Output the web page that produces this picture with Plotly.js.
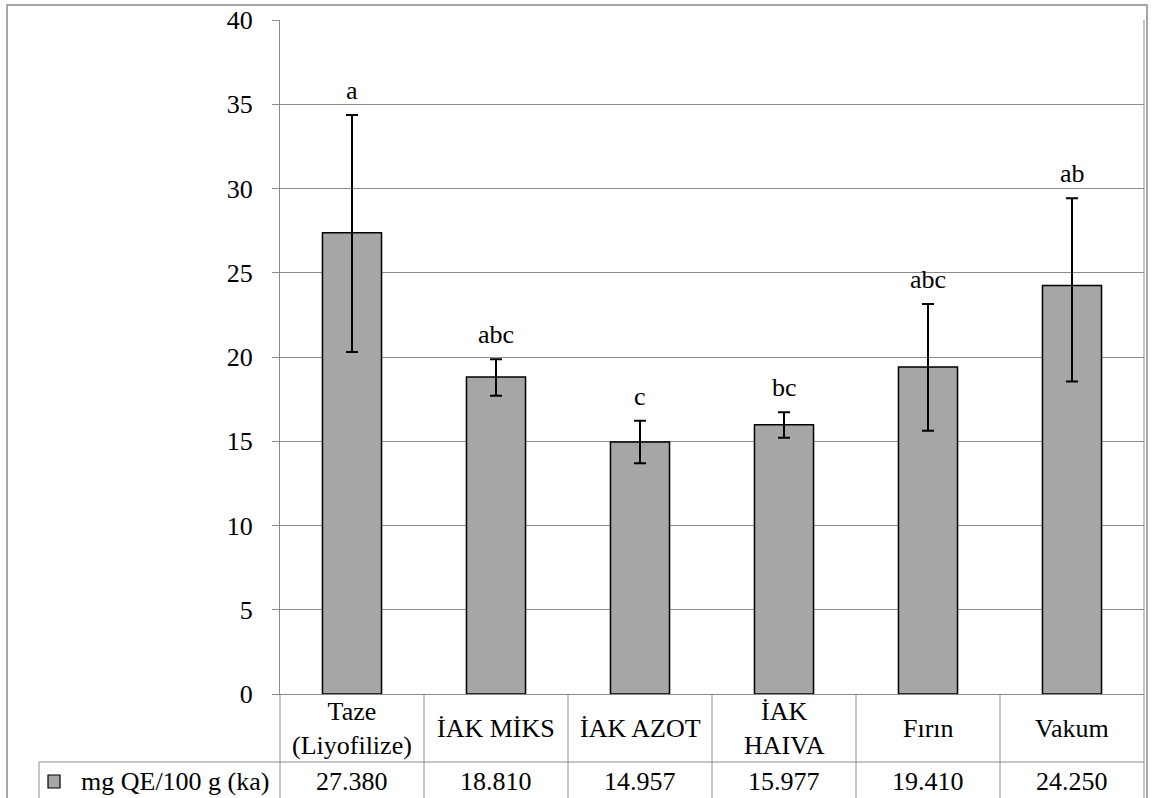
<!DOCTYPE html>
<html>
<head>
<meta charset="utf-8">
<script src="https://cdn.plot.ly/plotly-3.0.1.min.js"></script>
<style>html,body{margin:0;padding:0;background:#fff;}#chart{width:1154px;height:798px;}</style>
</head>
<body>
<div id="chart"></div>
<script>
// ---- data ----
const categories = ['Taze (Liyofilize)', 'İAK MİKS', 'İAK AZOT', 'İAK HAIVA', 'Fırın', 'Vakum'];
const tableLabels = ['Taze<br>(Liyofilize)', 'İAK MİKS', 'İAK AZOT', 'İAK<br>HAIVA', 'Fırın', 'Vakum'];
const values = [27.380, 18.810, 14.957, 15.977, 19.410, 24.250];
const errPlus = [6.98, 1.06, 1.26, 0.75, 3.74, 5.17];
const errMinus = [7.08, 1.11, 1.26, 0.77, 3.78, 5.71];
const letters = ['a', 'abc', 'c', 'bc', 'abc', 'ab'];
const seriesName = 'mg QE/100 g (ka)';
const yTicks = [0, 5, 10, 15, 20, 25, 30, 35, 40];

// ---- layout helpers (pixel -> paper) ----
const W = 1154, H = 798, ML = 280, MR = 10, MT = 20, MB = 104;
const PW = W - ML - MR, PH = H - MT - MB;
const px = v => (v - ML) / PW;
const py = v => (H - MB - v) / PH;

const FONT = 'Liberation Serif';
const FS = 26;
const GRID = '#8c8c8c';

const trace = {
  type: 'bar',
  x: categories,
  y: values,
  name: seriesName,
  width: 0.41,
  marker: { color: '#a6a6a6', line: { color: '#000000', width: 1.5 } },
  error_y: {
    type: 'data', symmetric: false, array: errPlus, arrayminus: errMinus,
    color: '#000000', thickness: 2, width: 6, visible: true
  },
  hoverinfo: 'none'
};

const shapes = [];
const annotations = [];
const rowSep = py(762);
const bottom = py(830);

shapes.push({ type: 'rect', xref: 'paper', yref: 'paper', x0: px(7), x1: px(1147), y0: py(5), y1: bottom,
  line: { color: '#8a8a8a', width: 1.5 }, fillcolor: 'rgba(0,0,0,0)', layer: 'above' });
shapes.push({ type: 'line', xref: 'paper', yref: 'paper', x0: 1, x1: 1, y0: 1, y1: bottom, line: { color: GRID, width: 1 } });
shapes.push({ type: 'line', xref: 'paper', yref: 'paper', x0: 0, x1: 0, y0: 0, y1: bottom, line: { color: GRID, width: 1 } });
for (let i = 0; i < categories.length - 1; i++) {
  shapes.push({ type: 'line', xref: 'x', yref: 'paper', x0: i + 0.5, x1: i + 0.5, y0: 0, y1: bottom, line: { color: GRID, width: 1 } });
}
shapes.push({ type: 'line', xref: 'paper', yref: 'paper', x0: px(39), x1: 1, y0: rowSep, y1: rowSep, line: { color: GRID, width: 1 } });
shapes.push({ type: 'line', xref: 'paper', yref: 'paper', x0: px(39), x1: px(39), y0: rowSep, y1: bottom, line: { color: GRID, width: 1 } });
shapes.push({ type: 'rect', xref: 'paper', yref: 'paper', x0: px(48), x1: px(60), y0: py(775), y1: py(788),
  fillcolor: '#a6a6a6', line: { color: '#000000', width: 1.2 } });

const tf = { family: FONT, size: FS, color: '#000000' };
annotations.push({ xref: 'paper', yref: 'paper', x: px(79), y: py(781), xanchor: 'left', yanchor: 'middle',
  text: seriesName, showarrow: false, font: tf });

categories.forEach((c, i) => {
  annotations.push({ xref: 'x', yref: 'paper', x: c, y: py(728), xanchor: 'center', yanchor: 'middle',
    text: tableLabels[i], showarrow: false, font: tf, borderpad: 0 });
  annotations.push({ xref: 'x', yref: 'paper', x: c, y: py(781), xanchor: 'center', yanchor: 'middle',
    text: values[i].toFixed(3), showarrow: false, font: tf });
  annotations.push({ xref: 'x', yref: 'y', x: c, y: values[i] + errPlus[i], xanchor: 'center', yanchor: 'bottom', yshift: 8,
    text: letters[i], showarrow: false, font: tf });
});

const layout = {
  width: W, height: H,
  margin: { l: ML, r: MR, t: MT, b: MB, pad: 0 },
  paper_bgcolor: '#ffffff', plot_bgcolor: '#ffffff',
  showlegend: false,
  hovermode: false,
  font: tf,
  xaxis: {
    type: 'category', range: [-0.5, 5.5], showticklabels: false, ticks: '',
    showgrid: false, zeroline: false, showline: true, linecolor: GRID, linewidth: 1, fixedrange: true
  },
  yaxis: {
    range: [0, 40], tickvals: yTicks, ticktext: yTicks.map(String),
    ticks: 'outside', ticklen: 7, tickcolor: GRID, tickwidth: 1,
    ticklabelstandoff: 14,
    showgrid: true, gridcolor: GRID, gridwidth: 1,
    zeroline: false, showline: true, linecolor: GRID, linewidth: 1,
    tickfont: tf, fixedrange: true
  },
  shapes: shapes,
  annotations: annotations
};

Plotly.newPlot('chart', [trace], layout, { staticPlot: true, displayModeBar: false });
</script>
</body>
</html>
